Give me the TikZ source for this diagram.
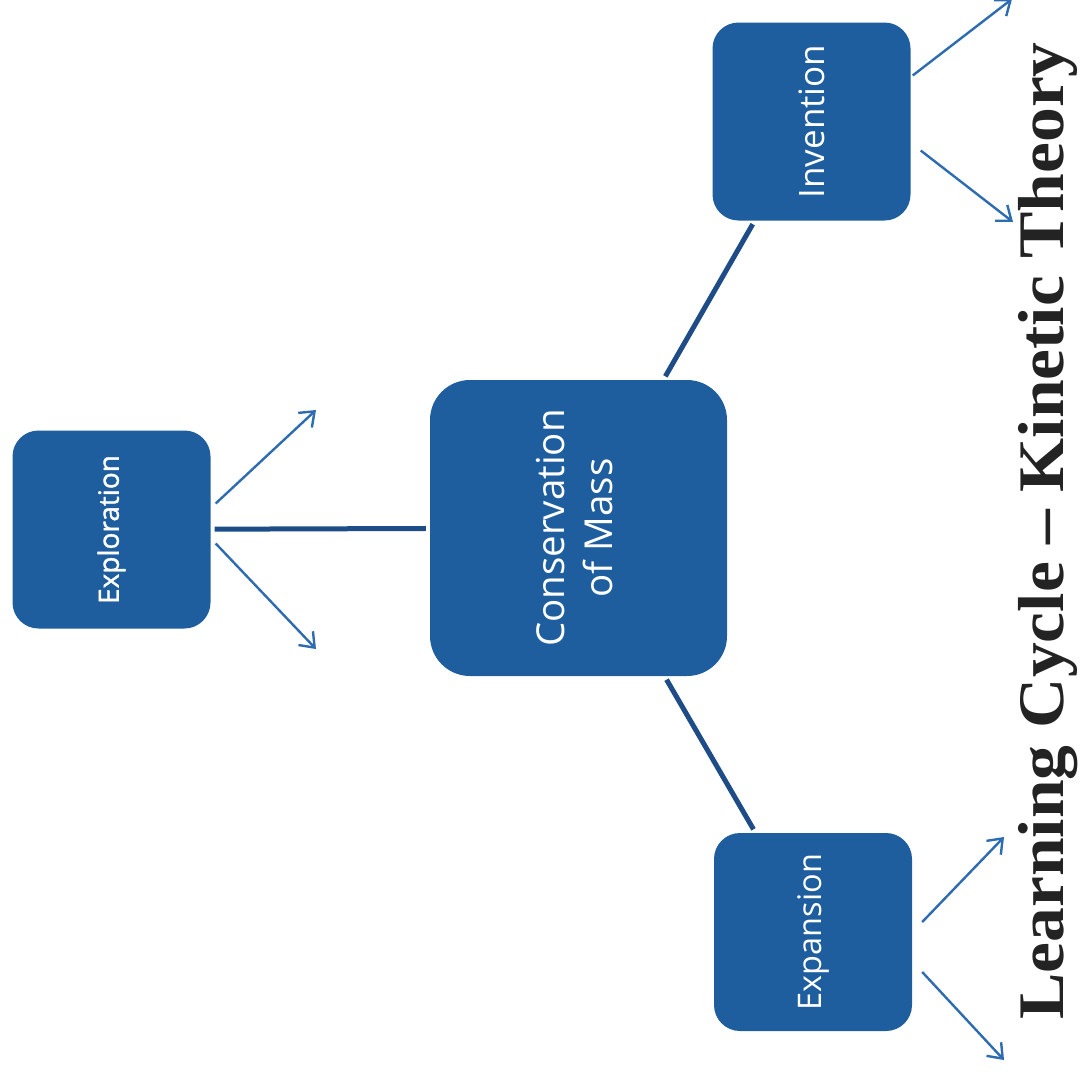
\documentclass[tikz,border=0pt]{standalone}
\usepackage{fontspec}
\usepackage{graphicx}
\setmainfont{Open Sans}
\newfontfamily\heavylabel[FakeBold=1.3]{Open Sans}
\newfontfamily\titlefont{Liberation Serif}
\usetikzlibrary{arrows.meta,calc}
\definecolor{boxblue}{RGB}{30,93,158}
\definecolor{linkblue}{RGB}{30,76,134}
\definecolor{arrowblue}{RGB}{46,108,178}
\definecolor{titleink}{RGB}{35,35,35}
\begin{document}
\begin{tikzpicture}[x=1pt,y=-1pt,
  stagebox/.style={fill=boxblue, rounded corners=26pt, minimum width=198pt, minimum height=198pt, inner sep=0pt, text=white, align=center},
  hubbox/.style={stagebox, rounded corners=40pt, minimum width=297pt, minimum height=296pt},
  link/.style={draw=linkblue, line width=5pt, shorten <=4pt, shorten >=4pt},
  branch/.style={draw=arrowblue, line width=2.4pt, -{Straight Barb[length=13pt,width=20pt,line width=2.4pt]}}
]
\useasboundingbox (0,0) rectangle (1081,1076);

% stage boxes
\node[stagebox] (expl) at (111.5,529.5) {\rotatebox{90}{\heavylabel\fontsize{28}{34}\selectfont Exploration}};
\node[hubbox] (cons) at (578.5,528) {\rotatebox{90}{\fontsize{38.5}{48}\selectfont\begin{tabular}{@{}c@{}}Conservation\\of Mass\end{tabular}}};
\node[stagebox] (inv) at (811.5,121.5) {\rotatebox{90}{\fontsize{35}{42}\selectfont Invention}};
\node[stagebox] (exps) at (813,932) {\rotatebox{90}{\fontsize{32.5}{40}\selectfont Expansion}};

% links to the hub
\draw[link] (expl) -- (cons);
\draw[link] (cons) -- (inv);
\draw[link] (cons) -- (exps);

% branch arrow ends
\coordinate (e1) at (316,410);
\coordinate (e2) at (316,649);
\coordinate (i1) at (1012,-1);
\coordinate (i2) at (1013,222);
\coordinate (x1) at (1004,837);
\coordinate (x2) at (1004,1060);

\draw[branch] ($(expl.east)+(5,-26)$) -- (e1);
\draw[branch] ($(expl.east)+(5,14)$) -- (e2);
\draw[branch] ($(inv.east)+(2,-46)$) -- (i1);
\draw[branch] ($(inv.east)+(10,29)$) -- (i2);
\draw[branch] ($(exps.east)+(10,-10)$) -- (x1);
\draw[branch] ($(exps.east)+(10,40)$) -- (x2);

% title
\node[inner sep=0pt, text=titleink] (title) at (1048,531) {\rotatebox{90}{\scalebox{1.07}[1]{\titlefont\bfseries\fontsize{65}{75}\selectfont Learning Cycle – Kinetic Theory}}};
\end{tikzpicture}
\end{document}
